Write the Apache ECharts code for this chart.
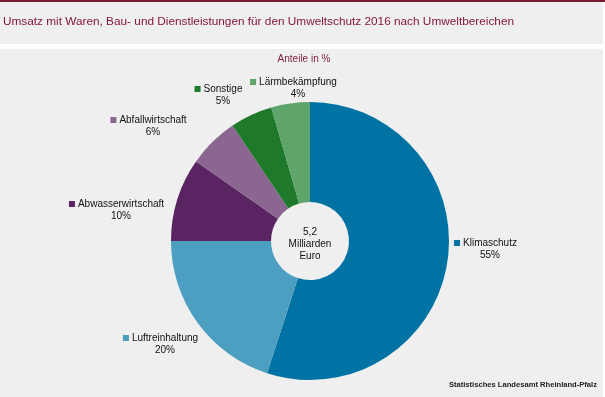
<!DOCTYPE html>
<html>
<head>
<meta charset="utf-8">
<script src="https://cdn.jsdelivr.net/npm/echarts@6/dist/echarts.min.js"></script>
<style>
  html, body { margin: 0; padding: 0; background: #ffffff; }
  #chart { width: 605px; height: 397px; }
</style>
</head>
<body>
<div id="chart"></div>
<script>
  // data
  const categories = ['Klimaschutz', 'Luftreinhaltung', 'Abwasserwirtschaft', 'Abfallwirtschaft', 'Sonstige', 'Lärmbekämpfung'];
  const shares = [55.0, 20.0, 9.7, 5.9, 4.9, 4.5];       // slice sizes
  const shareLabels = ['55%', '20%', '10%', '6%', '5%', '4%']; // printed labels
  const colors = ['#0072a3', '#4d9fc1', '#5a2361', '#8b6690', '#1e7a2a', '#5fa46a'];
  // label anchor (centre of name text), px
  const labelPos = [[490, 249], [165, 344], [121, 210], [153, 126], [223, 95], [298, 88]];

  const chart = echarts.init(document.getElementById('chart'));
  const font = 'Liberation Sans, Arial, sans-serif';

  const rich = { n: { fontSize: 10, color: '#111', fontFamily: font, lineHeight: 12, padding: [0, 0, 0, 3] },
                 p: { fontSize: 10, color: '#111', fontFamily: font, lineHeight: 12, padding: [0, 0, 0, 9] } };
  colors.forEach((c, i) => {
    rich['m' + i] = { width: 6, height: 6, backgroundColor: c, fontSize: 1 };
  });

  chart.setOption({
    backgroundColor: '#ffffff',
    animation: false,
    graphic: [
      { type: 'rect', shape: { x: 0, y: 0, width: 605, height: 2 }, style: { fill: '#7c1a33' }, z: -1 },
      { type: 'rect', shape: { x: 0, y: 2, width: 603, height: 42 }, style: { fill: '#eeefee' }, z: -1 },
      { type: 'rect', shape: { x: 0, y: 49, width: 603, height: 348 }, style: { fill: '#eeefee' }, z: -1 },
      { type: 'text', left: 3, top: 16, style: { text: 'Umsatz mit Waren, Bau- und Dienstleistungen für den Umweltschutz 2016 nach Umweltbereichen', fontSize: 11.8, fontFamily: font, fill: '#85193c' } },
      { type: 'text', x: 304, y: 59, style: { text: 'Anteile in %', fontSize: 10, fontFamily: font, fill: '#7d1f3d', align: 'center', verticalAlign: 'middle' } },
      { type: 'text', x: 310, y: 244, z: 10, style: { text: '5,2\nMilliarden\nEuro', fontSize: 10, lineHeight: 12, fontFamily: font, fill: '#111', align: 'center', verticalAlign: 'middle' } },
      { type: 'text', right: 8, top: 381, style: { text: 'Statistisches Landesamt Rheinland-Pfalz', fontSize: 7.6, fontWeight: 'bold', fontFamily: font, fill: '#222' } }
    ],
    series: [{
      type: 'pie',
      center: [310, 241],
      radius: [39, 139],
      startAngle: 90,
      clockwise: true,
      silent: true,
      data: categories.map((name, i) => ({ name, value: shares[i], itemStyle: { color: colors[i] } })),
      label: {
        show: true,
        position: 'outside',
        align: 'center',
        formatter: p => '{m' + p.dataIndex + '|}{n|' + p.name + '}\n{p|' + shareLabels[p.dataIndex] + '}',
        rich
      },
      labelLine: { show: false },
      labelLayout: p => ({ x: labelPos[p.dataIndex][0] - 4.5, y: labelPos[p.dataIndex][1], align: 'center', verticalAlign: 'middle' })
    }]
  });
</script>
</body>
</html>
